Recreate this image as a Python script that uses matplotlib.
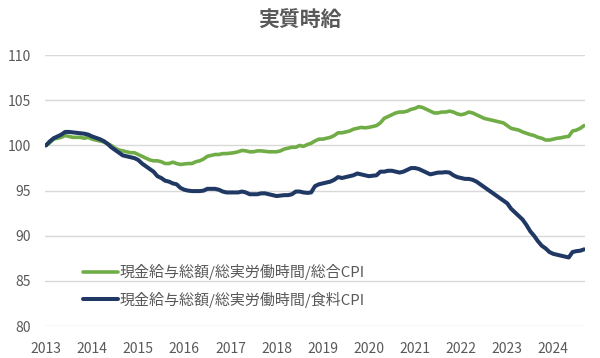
import numpy as np
import matplotlib.pyplot as plt

plt.rcParams['font.family'] = ['Noto Sans CJK JP', 'DejaVu Sans']

# monthly, Jan 2013 .. Sep 2024
start_year = 2013
green = [
    100.0, 100.3, 100.7, 100.8, 100.9, 101.1, 101.0, 100.9, 100.9, 100.9, 100.8, 100.9,
    100.7, 100.6, 100.5, 100.4, 100.2, 100.0, 99.7, 99.5, 99.4, 99.3, 99.2, 99.2,
    99.0, 98.8, 98.6, 98.4, 98.3, 98.3, 98.2, 98.0, 98.0, 98.15, 98.0, 97.9,
    97.95, 98.0, 98.0, 98.2, 98.3, 98.5, 98.8, 98.9, 99.0, 99.0, 99.1, 99.1,
    99.15, 99.2, 99.3, 99.45, 99.4, 99.3, 99.3, 99.4, 99.4, 99.35, 99.3, 99.3,
    99.3, 99.4, 99.6, 99.7, 99.8, 99.8, 100.0, 99.9, 100.1, 100.25, 100.5, 100.7,
    100.7, 100.8, 100.9, 101.1, 101.4, 101.4, 101.5, 101.6, 101.8, 101.9, 102.0, 101.95,
    102.0, 102.1, 102.2, 102.5, 103.0, 103.2, 103.4, 103.6, 103.7, 103.7, 103.8, 104.0,
    104.1, 104.3, 104.2, 104.0, 103.8, 103.6, 103.6, 103.7, 103.7, 103.8, 103.7, 103.5,
    103.4, 103.5, 103.7, 103.6, 103.4, 103.2, 103.0, 102.9, 102.8, 102.7, 102.6, 102.5,
    102.2, 101.9, 101.8, 101.7, 101.5, 101.35, 101.2, 101.1, 100.9, 100.8, 100.6, 100.6,
    100.7, 100.8, 100.85, 100.95, 101.0, 101.6, 101.7, 101.9, 102.2,
]
navy = [
    100.0, 100.45, 100.8, 101.0, 101.2, 101.5, 101.5, 101.45, 101.4, 101.35, 101.3, 101.2,
    101.0, 100.85, 100.7, 100.5, 100.2, 99.8, 99.5, 99.2, 98.9, 98.8, 98.7, 98.6,
    98.4, 98.0, 97.7, 97.4, 97.1, 96.6, 96.4, 96.1, 96.0, 95.8, 95.7, 95.3,
    95.1, 95.0, 94.95, 94.95, 94.95, 95.0, 95.2, 95.2, 95.2, 95.1, 94.9, 94.8,
    94.8, 94.8, 94.8, 94.9, 94.8, 94.6, 94.6, 94.6, 94.7, 94.7, 94.6, 94.5,
    94.4, 94.45, 94.5, 94.5, 94.6, 94.9, 94.9, 94.8, 94.75, 94.8, 95.5, 95.7,
    95.8, 95.9, 96.0, 96.2, 96.5, 96.4, 96.5, 96.6, 96.7, 96.9, 96.8, 96.7,
    96.6, 96.65, 96.7, 97.1, 97.1, 97.2, 97.2, 97.1, 97.0, 97.1, 97.3, 97.5,
    97.5, 97.4, 97.2, 97.0, 96.8, 96.9, 97.0, 97.0, 97.05, 97.0, 96.7, 96.5,
    96.4, 96.3, 96.3, 96.2, 96.0, 95.7, 95.4, 95.1, 94.8, 94.5, 94.2, 93.9,
    93.6, 93.0, 92.6, 92.2, 91.8, 91.2, 90.5, 90.0, 89.4, 88.9, 88.6, 88.2,
    88.0, 87.9, 87.8, 87.7, 87.6, 88.2, 88.3, 88.35, 88.5,
]
labels = ['現金給与総額/総実労働時間/総合CPI', '現金給与総額/総実労働時間/食料CPI']
years = list(range(2013, 2025))

x = start_year + np.arange(len(green)) / 12

fig = plt.figure(figsize=(6, 3.58), dpi=100)
ax = fig.add_axes([0.075, 0.089, 0.9, 0.757])

ax.plot(x, green, color='#70AD47', lw=2.6, label=labels[0], solid_capstyle='round')
ax.plot(x, navy, color='#203864', lw=2.9, label=labels[1], solid_capstyle='round')

ax.set_ylim(80, 110)
ax.set_xlim(x[0] - 0.02, x[-1] + 0.02)
ax.set_yticks(range(80, 111, 5))
ax.set_xticks(years)
ax.grid(axis='y', color='#D9D9D9', lw=1)
ax.set_axisbelow(True)
for s in ax.spines.values():
    s.set_visible(False)
ax.tick_params(length=0, labelsize=10, colors='#595959')
ax.tick_params(axis='y', pad=10)
ax.tick_params(axis='x', pad=11.5)

leg = ax.legend(loc='upper left', bbox_to_anchor=(0.046, 0.279), frameon=False,
                fontsize=10.8, handlelength=2.3, handletextpad=0.1, labelspacing=0.75)
for t in leg.get_texts():
    t.set_color('#595959')

fig.text(0.5, 0.943, '実質時給', ha='center', va='center', fontsize=15,
         color='#595959', fontweight='bold')

fig.savefig('out.png')
